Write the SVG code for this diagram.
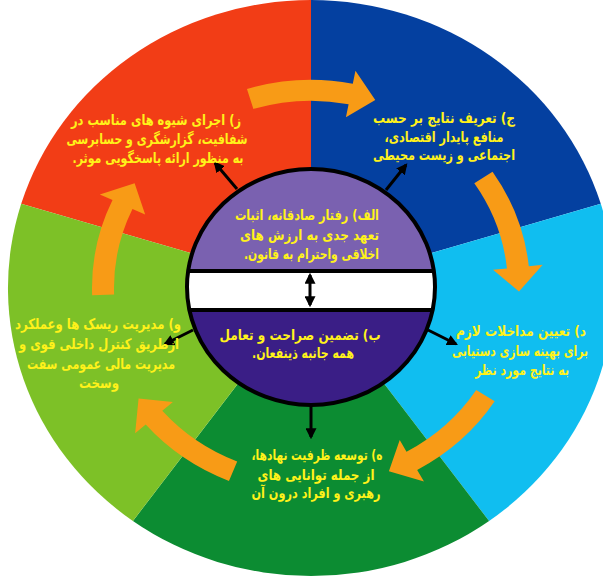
<svg xmlns="http://www.w3.org/2000/svg" width="603" height="577" viewBox="0 0 603 577">
<defs>
<style>
.t{font-family:"DejaVu Sans","Noto Sans",sans-serif;font-weight:bold;font-size:14.5px;fill:#FFF21A;direction:rtl;unicode-bidi:embed}
.m{text-anchor:middle}
.r{text-anchor:start}
.orng{fill:#F89B16}
.con{stroke:#000;stroke-width:3;fill:none}
</style>
<marker id="ah" viewBox="0 0 10 10" refX="8" refY="5" markerWidth="11" markerHeight="11" markerUnits="userSpaceOnUse" orient="auto-start-reverse">
<path d="M0,0 L10,5 L0,10 z" fill="#000"/>
</marker>
<clipPath id="ic"><ellipse cx="311" cy="287" rx="124" ry="118"/></clipPath>
</defs>
<rect width="603" height="577" fill="#fff"/>
<g id="wheel">
<path id="seg-red" d="M311,288 L311,0 A303,288 0 0 0 21.2,203.8 Z" fill="#F23D16"/>
<path id="seg-blue" d="M311,288 L311,0 A303,288 0 0 1 600.8,203.8 Z" fill="#0440A0"/>
<path id="seg-lightblue" d="M311,288 L600.8,203.8 A303,288 0 0 1 489.1,521 Z" fill="#10BEF0"/>
<path id="seg-darkgreen" d="M311,288 L489.1,521 A303,288 0 0 1 132.9,521 Z" fill="#0C8C32"/>
<path id="seg-lightgreen" d="M311,288 L132.9,521 A303,288 0 0 1 21.2,203.8 Z" fill="#7DC127"/>
</g>
<g id="cycle-arrows" transform="translate(311,288) scale(1,0.95)">
<path class="orng" d="M-64.03,-209.43 A219,219 0 0 1 41.79,-214.98 L44.46,-228.71 L64.27,-197.83 L34.92,-179.63 L37.59,-193.38 A197,197 0 0 0 -57.60,-188.39 Z"/>
<path class="orng" d="M181.55,-122.46 A219,219 0 0 1 217.80,-22.89 L231.72,-24.35 L207.97,3.63 L182.0,-19.12 L195.92,-20.59 A197,197 0 0 0 163.31,-110.16 Z"/>
<path class="orng" d="M183.68,119.27 A219,219 0 0 1 106.17,191.54 L112.96,203.78 L77.92,192.86 L88.72,160.05 L95.51,172.30 A197,197 0 0 0 165.22,107.29 Z"/>
<path class="orng" d="M-82.04,203.06 A219,219 0 0 1 -165.28,143.69 L-175.85,152.87 L-172.43,116.31 L-138.11,120.07 L-148.68,129.25 A197,197 0 0 0 -73.80,182.66 Z"/>
<path class="orng" d="M-218.87,7.64 A219,219 0 0 1 -198.48,-92.55 L-211.17,-98.47 L-176.38,-110.22 L-165.85,-77.34 L-178.54,-83.25 A197,197 0 0 0 -196.88,6.88 Z"/>
</g>
<g id="center">
<g clip-path="url(#ic)">
<rect x="180" y="160" width="262" height="111" fill="#7A61B0"/>
<rect x="180" y="310" width="262" height="100" fill="#3A1E86"/>
<rect x="180" y="271" width="262" height="39" fill="#fff" stroke="#000" stroke-width="4"/>
</g>
<ellipse cx="311" cy="287" rx="124" ry="118" fill="none" stroke="#000" stroke-width="4"/>
</g>
<g id="connectors">
<line class="con" x1="237" y1="189" x2="215" y2="163" marker-end="url(#ah)"/>
<line class="con" x1="386" y1="190" x2="406" y2="165" marker-end="url(#ah)"/>
<line class="con" x1="428" y1="330" x2="456" y2="344" marker-end="url(#ah)"/>
<line class="con" x1="311" y1="405" x2="311" y2="437" marker-end="url(#ah)"/>
<line class="con" x1="193" y1="330" x2="165" y2="344" marker-end="url(#ah)"/>
<line class="con" x1="310" y1="275" x2="310" y2="305" marker-start="url(#ah)" marker-end="url(#ah)"/>
</g>
<g id="node-alef">
<text class="t r" x="379" y="220" textLength="144" lengthAdjust="spacingAndGlyphs">الف) رفتار صادقانه، اثبات</text>
<text class="t r" x="379" y="240" textLength="139" lengthAdjust="spacingAndGlyphs">تعهد جدی به ارزش های</text>
<text class="t r" x="379" y="259" textLength="135" lengthAdjust="spacingAndGlyphs">اخلاقی واحترام به قانون.</text>
</g>
<g id="node-be">
<text class="t m" x="300" y="340" textLength="161" lengthAdjust="spacingAndGlyphs">ب) تضمین صراحت و تعامل</text>
<text class="t m" x="303" y="358" textLength="102" lengthAdjust="spacingAndGlyphs">همه جانبه ذینفعان.</text>
</g>
<g id="node-jim">
<text class="t m" x="444" y="123" textLength="142" lengthAdjust="spacingAndGlyphs">ج) تعریف نتایج بر حسب</text>
<text class="t m" x="444" y="142" textLength="119" lengthAdjust="spacingAndGlyphs">منافع پایدار اقتصادی،</text>
<text class="t m" x="444" y="160" textLength="142" lengthAdjust="spacingAndGlyphs">اجتماعی و زیست محیطی</text>
</g>
<g id="node-dal">
<text class="t m" x="521" y="336" textLength="130" lengthAdjust="spacingAndGlyphs">د) تعیین مداخلات لازم</text>
<text class="t m" x="520" y="356" textLength="136" lengthAdjust="spacingAndGlyphs">برای بهینه سازی دستیابی</text>
<text class="t m" x="522" y="375" textLength="94" lengthAdjust="spacingAndGlyphs">به نتایج مورد نظر</text>
</g>
<g id="node-he">
<text class="t m" x="317" y="460" textLength="131" lengthAdjust="spacingAndGlyphs">ه) توسعه ظرفیت نهادها،</text>
<text class="t m" x="316" y="480" textLength="117" lengthAdjust="spacingAndGlyphs">از  جمله توانایی های</text>
<text class="t m" x="316" y="498" textLength="129" lengthAdjust="spacingAndGlyphs">رهبری و افراد درون آن</text>
</g>
<g id="node-vav">
<text class="t m" x="98" y="329" textLength="166" lengthAdjust="spacingAndGlyphs">و) مدیریت ریسک ها وعملکرد</text>
<text class="t m" x="99" y="349" textLength="160" lengthAdjust="spacingAndGlyphs">ازطریق کنترل داخلی قوی و</text>
<text class="t m" x="101" y="369" textLength="148" lengthAdjust="spacingAndGlyphs">مدیریت مالی عمومی سفت</text>
<text class="t m" x="99" y="388" textLength="40" lengthAdjust="spacingAndGlyphs">وسخت</text>
</g>
<g id="node-ze">
<text class="t m" x="156" y="125" textLength="170" lengthAdjust="spacingAndGlyphs">ز) اجرای شیوه های مناسب در</text>
<text class="t m" x="157" y="144" textLength="181" lengthAdjust="spacingAndGlyphs">شفافیت، گزارشگری و حسابرسی</text>
<text class="t m" x="158" y="163" textLength="171" lengthAdjust="spacingAndGlyphs">به منظور ارائه پاسخگویی موثر.</text>
</g>
</svg>
